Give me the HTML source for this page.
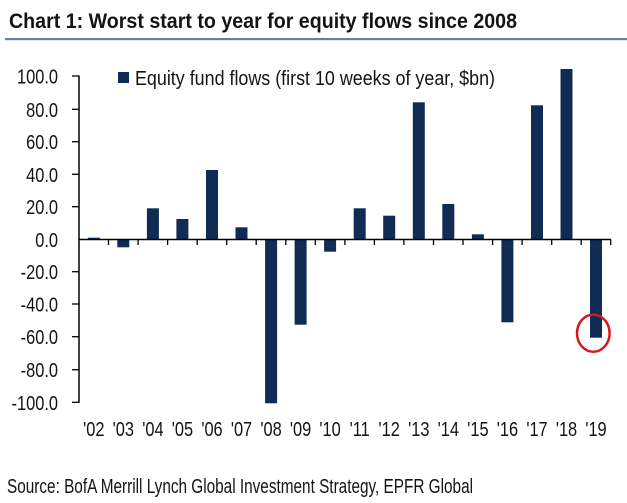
<!DOCTYPE html>
<html><head><meta charset="utf-8"><style>
html,body{margin:0;padding:0;background:#fff;}
svg{display:block;}
text{font-family:"Liberation Sans",Arial,sans-serif;fill:#141414;}
</style></head><body>
<svg width="627" height="503" viewBox="0 0 627 503" xmlns="http://www.w3.org/2000/svg">
<rect width="627" height="503" fill="#fff"/>
<!-- Title -->
<text x="9" y="28" font-size="21" font-weight="bold" textLength="508" lengthAdjust="spacingAndGlyphs">Chart 1: Worst start to year for equity flows since 2008</text>
<rect x="5" y="38" width="622" height="2.2" fill="#6b7f99"/>
<!-- Legend -->
<rect x="118" y="72" width="11" height="11" fill="#102c54"/>
<text x="135" y="85" font-size="20" textLength="360" lengthAdjust="spacingAndGlyphs">Equity fund flows (first 10 weeks of year, $bn)</text>
<!-- Y axis -->
<line x1="79" y1="75.5" x2="79" y2="402.8" stroke="#000" stroke-width="1.5"/>
<g stroke="#000" stroke-width="1.3">
<line x1="72" y1="76" x2="79" y2="76"/>
<line x1="72" y1="109.3" x2="79" y2="109.3"/>
<line x1="72" y1="141.7" x2="79" y2="141.7"/>
<line x1="72" y1="174.3" x2="79" y2="174.3"/>
<line x1="72" y1="206.7" x2="79" y2="206.7"/>
<line x1="72" y1="271.7" x2="79" y2="271.7"/>
<line x1="72" y1="304" x2="79" y2="304"/>
<line x1="72" y1="336.7" x2="79" y2="336.7"/>
<line x1="72" y1="369.7" x2="79" y2="369.7"/>
<line x1="72" y1="402.3" x2="79" y2="402.3"/>
</g>
<g font-size="20" text-anchor="end">
<text transform="translate(58,83.5) scale(0.82,1)">100.0</text>
<text transform="translate(58,116.8) scale(0.82,1)">80.0</text>
<text transform="translate(58,149.2) scale(0.82,1)">60.0</text>
<text transform="translate(58,181.8) scale(0.82,1)">40.0</text>
<text transform="translate(58,214.2) scale(0.82,1)">20.0</text>
<text transform="translate(58,247) scale(0.82,1)">0.0</text>
<text transform="translate(58,279.2) scale(0.82,1)">-20.0</text>
<text transform="translate(58,311.5) scale(0.82,1)">-40.0</text>
<text transform="translate(58,344.2) scale(0.82,1)">-60.0</text>
<text transform="translate(58,377.2) scale(0.82,1)">-80.0</text>
<text transform="translate(58,409.8) scale(0.82,1)">-100.0</text>
</g>
<!-- Bars: category width 29.54, start 79 -->
<g fill="#102c54">
<rect x="87.8" y="237.7" width="12" height="2"/>
<rect x="117.3" y="239.5" width="12" height="7.8"/>
<rect x="146.9" y="208.3" width="12" height="31.2"/>
<rect x="176.4" y="219" width="12" height="20.5"/>
<rect x="206" y="170" width="12" height="69.5"/>
<rect x="235.5" y="227.3" width="12" height="12.2"/>
<rect x="265.1" y="239.5" width="12" height="163.8"/>
<rect x="294.6" y="239.5" width="12" height="85.2"/>
<rect x="324.1" y="239.5" width="12" height="12.2"/>
<rect x="353.7" y="208.3" width="12" height="31.2"/>
<rect x="383.2" y="215.7" width="12" height="23.8"/>
<rect x="412.8" y="102.3" width="12" height="137.2"/>
<rect x="442.3" y="204" width="12" height="35.5"/>
<rect x="471.9" y="234.3" width="12" height="5.2"/>
<rect x="501.4" y="239.5" width="12" height="82.8"/>
<rect x="531" y="105.3" width="12" height="134.2"/>
<rect x="560.5" y="69" width="12" height="170.5"/>
<rect x="590" y="239.5" width="12" height="98.2"/>
</g>
<!-- Zero line & x ticks -->
<line x1="79" y1="239.5" x2="611" y2="239.5" stroke="#000" stroke-width="1.6"/>
<g stroke="#000" stroke-width="1.3">
<line x1="108.5" y1="239.5" x2="108.5" y2="245"/>
<line x1="138.1" y1="239.5" x2="138.1" y2="245"/>
<line x1="167.6" y1="239.5" x2="167.6" y2="245"/>
<line x1="197.2" y1="239.5" x2="197.2" y2="245"/>
<line x1="226.7" y1="239.5" x2="226.7" y2="245"/>
<line x1="256.2" y1="239.5" x2="256.2" y2="245"/>
<line x1="285.8" y1="239.5" x2="285.8" y2="245"/>
<line x1="315.3" y1="239.5" x2="315.3" y2="245"/>
<line x1="344.9" y1="239.5" x2="344.9" y2="245"/>
<line x1="374.4" y1="239.5" x2="374.4" y2="245"/>
<line x1="403.9" y1="239.5" x2="403.9" y2="245"/>
<line x1="433.5" y1="239.5" x2="433.5" y2="245"/>
<line x1="463" y1="239.5" x2="463" y2="245"/>
<line x1="492.6" y1="239.5" x2="492.6" y2="245"/>
<line x1="522.1" y1="239.5" x2="522.1" y2="245"/>
<line x1="551.7" y1="239.5" x2="551.7" y2="245"/>
<line x1="581.2" y1="239.5" x2="581.2" y2="245"/>
<line x1="610.7" y1="239.5" x2="610.7" y2="245"/>
</g>
<!-- X labels -->
<g font-size="20" text-anchor="middle">
<text transform="translate(93.8,436) scale(0.82,1)">'02</text>
<text transform="translate(123.3,436) scale(0.82,1)">'03</text>
<text transform="translate(152.9,436) scale(0.82,1)">'04</text>
<text transform="translate(182.4,436) scale(0.82,1)">'05</text>
<text transform="translate(212,436) scale(0.82,1)">'06</text>
<text transform="translate(241.5,436) scale(0.82,1)">'07</text>
<text transform="translate(271.1,436) scale(0.82,1)">'08</text>
<text transform="translate(300.6,436) scale(0.82,1)">'09</text>
<text transform="translate(330.1,436) scale(0.82,1)">'10</text>
<text transform="translate(359.7,436) scale(0.82,1)">'11</text>
<text transform="translate(389.2,436) scale(0.82,1)">'12</text>
<text transform="translate(418.8,436) scale(0.82,1)">'13</text>
<text transform="translate(448.3,436) scale(0.82,1)">'14</text>
<text transform="translate(477.9,436) scale(0.82,1)">'15</text>
<text transform="translate(507.4,436) scale(0.82,1)">'16</text>
<text transform="translate(537,436) scale(0.82,1)">'17</text>
<text transform="translate(566.5,436) scale(0.82,1)">'18</text>
<text transform="translate(596,436) scale(0.82,1)">'19</text>
</g>
<!-- Red circle -->
<ellipse cx="593.3" cy="333.2" rx="16.3" ry="18.6" fill="none" stroke="#d41820" stroke-width="2.5"/>
<!-- Source -->
<text x="7" y="493" font-size="20" textLength="466" lengthAdjust="spacingAndGlyphs">Source: BofA Merrill Lynch Global Investment Strategy, EPFR Global</text>
</svg>
</body></html>
